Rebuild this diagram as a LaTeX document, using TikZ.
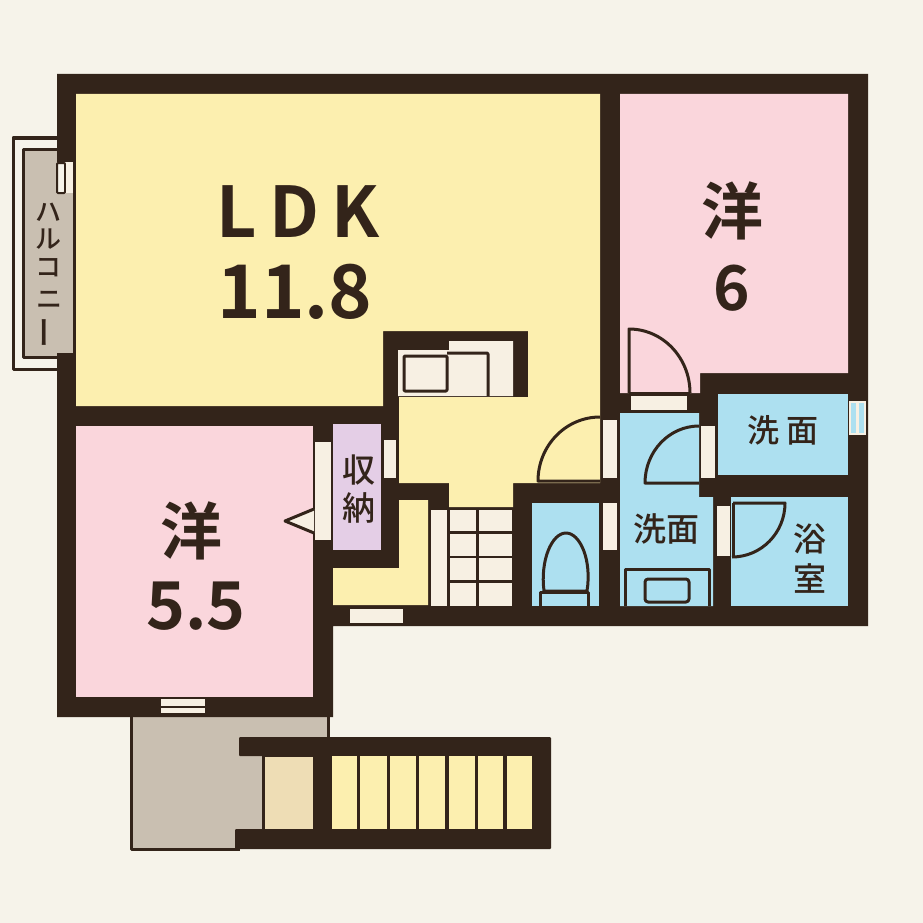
\documentclass[tikz,border=0pt]{standalone}
\usepackage{fontspec}
\setmainfont{Noto Sans CJK JP}
\newfontfamily\jpmed{Noto Sans CJK JP Medium}
\newfontfamily\jpbold{Noto Sans CJK JP Bold}
\definecolor{paper}{HTML}{F6F3EA}
\definecolor{wall}{HTML}{33241A}
\definecolor{ldk}{HTML}{FCEFAF}
\definecolor{rose}{HTML}{FAD6DC}
\definecolor{aqua}{HTML}{ADE0F0}
\definecolor{lilac}{HTML}{E4CEE6}
\definecolor{stone}{HTML}{C9BFB1}
\definecolor{sand}{HTML}{EEDDB5}
\definecolor{cream}{HTML}{F7F0E3}
\tikzset{
  wallfill/.style={fill=wall,draw=none},
  opening/.style={fill=cream,draw=none},
  fixture/.style={draw=wall,line width=3pt,line join=round},
  thinline/.style={draw=wall,line width=3pt,line join=round},
  label/.style={inner sep=0pt,text=wall,font=\jpmed\fontsize{#1}{#1}\selectfont},
  biglabel/.style={inner sep=0pt,text=wall,font=\jpbold\fontsize{#1}{#1}\selectfont}
}
\begin{document}
\begin{tikzpicture}[x=1pt,y=-1pt]
\useasboundingbox (0,0) rectangle (923,923);
\fill[paper] (0,0) rectangle (923,923);
% balcony outline
\draw[thinline] (57,138)--(13,138)--(13,369)--(57,369);
% entry slab
\fill[stone] (132,717) rectangle (327,737);
\fill[stone] (132,737) rectangle (262,849);
\draw[thinline] (131,717)--(131,849)--(240,849);
\draw[thinline] (328,717)--(328,738);
% outdoor stairs
\fill[wallfill,rounded corners=1pt] (239,737)--(551,737)--(551,849)--(235,849)--(235,829)--(313,829)--(313,756)--(239,756)--cycle;
\fill[wallfill] (262,756) rectangle (332,829);
\fill[sand] (265,757) rectangle (313,829);
\fill[ldk] (332,756) rectangle (357,829);
\fill[ldk] (360,756) rectangle (387,829);
\fill[ldk] (390,756) rectangle (416,829);
\fill[ldk] (419,756) rectangle (445,829);
\fill[ldk] (449,756) rectangle (475,829);
\fill[ldk] (478,756) rectangle (503,829);
\fill[ldk] (507,756) rectangle (532,829);
% main walls
\fill[wallfill] (57,74)--(868,74)--(868,626)--(333,626)--(333,717)--(57,717)--cycle;
% rooms
\fill[ldk] (76,94)--(600,94)--(600,483)--(513,483)--(513,507)--(449,507)--(449,483)--(399,483)--(399,397)--(528,397)--(528,331)--(383,331)--(383,406)--(76,406)--cycle;
\fill[ldk] (399,500)--(428,500)--(428,605)--(333,605)--(333,568)--(399,568)--cycle;
\fill[rose] (76,426) rectangle (313,697);
\fill[rose] (620,94)--(848,94)--(848,373)--(700,373)--(700,393)--(620,393)--cycle;
\fill[lilac] (333,424) rectangle (381,550);
\fill[aqua] (620,413)--(699,413)--(699,497)--(713,497)--(713,606)--(620,606)--cycle;
\fill[aqua] (532,503) rectangle (599,606);
\fill[aqua] (718,394) rectangle (848,475);
\fill[aqua] (731,497) rectangle (848,606);
% balcony
\fill[stone] (23,149) rectangle (57,357);
\fill[stone] (57,162) rectangle (73,353);
\draw[thinline] (57,149)--(23,149)--(23,357)--(57,357);
\filldraw[fixture,line width=2pt,fill=paper,rounded corners=1pt] (57,163) rectangle (65,193);
\fill[opening] (66,162) rectangle (73,193);
% openings
\fill[opening] (315,442) rectangle (331,540);
\fill[opening] (384,440) rectangle (396,478);
\fill[opening] (350,609) rectangle (403,623);
\fill[opening] (603,420) rectangle (617,478);
\fill[opening] (603,503) rectangle (617,550);
\fill[opening] (631,396) rectangle (687,410);
\fill[opening] (701,426) rectangle (715,478);
\fill[opening] (717,506) rectangle (730,556);
\fill[opening] (161,699) rectangle (205,706);
\fill[opening] (161,708) rectangle (205,713);
% east window
\filldraw[fill=aqua,draw=cream,line width=1.6pt] (850,402) rectangle (857,434);
\filldraw[fill=aqua,draw=cream,line width=1.6pt] (858,402) rectangle (865,434);
% door of the small room
\filldraw[fixture,fill=cream] (314,509)--(285,521)--(314,533);
% stairs
\fill[opening] (431,510) rectangle (447,606);
\foreach \ya/\yb in {510/531,534/556,558/580,583/606}{
  \fill[opening] (450,\ya) rectangle (476,\yb);
  \fill[opening] (479,\ya) rectangle (512,\yb);
}
% kitchen
\fill[opening] (398,350)--(449,350)--(449,341)--(513,341)--(513,396)--(398,396)--cycle;
\draw[fixture,rounded corners=1pt] (404,356) rectangle (447,391);
\draw[fixture,rounded corners=1pt] (447,353)--(488,353)--(488,396);
% door swings
\draw[fixture] (629,393)--(629,329) arc[start angle=90,end angle=0,x radius=61,y radius=-64];
\draw[fixture] (629,393)--(690,393);
\draw[fixture] (600,417) arc[start angle=90,end angle=180,x radius=62,y radius=-64]--(600,481);
\draw[fixture] (699,426) arc[start angle=90,end angle=180,x radius=54,y radius=-57]--(699,483);
\draw[fixture] (733,503)--(785,503) arc[start angle=0,end angle=-90,x radius=53,y radius=-54];
\draw[fixture] (733,503)--(733,557);
% toilet
\draw[fixture] (544,591) .. controls (540,560) and (552,533) .. (566,533) .. controls (580,533) and (592,560) .. (587,591) -- cycle;
\draw[fixture] (540,606)--(540,592)--(588,592)--(588,606);
% basin
\draw[fixture] (625,606)--(625,569)--(709,569)--(709,606);
\draw[fixture,rounded corners=3pt] (645,579) rectangle (689,602);
% labels
\node[biglabel=70] (nldk) at (298,212) {L\kern.18em D\kern.18em K};
\node[biglabel=74] (nldkn) at (295,292) {11.8};
\node[biglabel=62] (nwest) at (732,211) {洋};
\node[biglabel=62] (nwestn) at (732,288) {6};
\node[biglabel=62] (nsouth) at (191,531) {洋};
\node[biglabel=66] (nsouthn) at (196,606) {5.5};
\node[label=32] (nsinka) at (783,430) {洗\kern.2em 面};
\node[label=33] (nsinkb) at (666,529) {洗面};
\node[label=33] (nbatha) at (810,539) {浴};
\node[label=33] (nbathb) at (810,578) {室};
\node[label=33] (nstora) at (359,470) {収};
\node[label=33] (nstorb) at (359,508) {納};
\node[label=26] (nbala) at (48,212) {ハ};
\node[label=26] (nbalb) at (48,239) {ル};
\node[label=26] (nbalc) at (48,268) {コ};
\node[label=26] (nbald) at (49,300) {ニ};
\node[label=32,rotate=90] (nbale) at (49,332) {ー};
\end{tikzpicture}
\end{document}
